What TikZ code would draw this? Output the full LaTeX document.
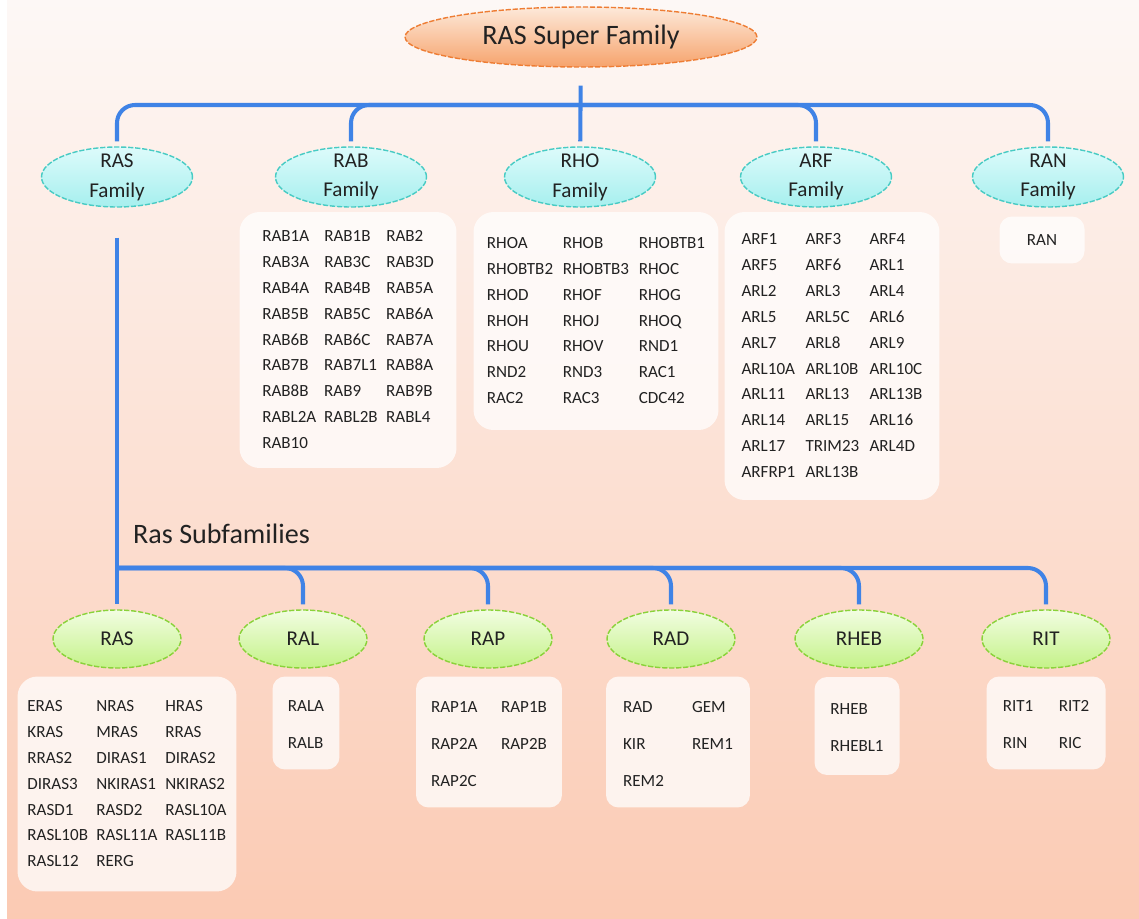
\documentclass[tikz,border=0pt]{standalone}
\usepackage{fontspec}
\setmainfont{Carlito}
\usetikzlibrary{shapes.geometric}
\definecolor{BusBlue}{HTML}{3F83E6}
\definecolor{PaperTop}{HTML}{FDF8F6}
\definecolor{PeachBot}{HTML}{FBCAB3}
\definecolor{OrangeRim}{HTML}{EE7D34}
\definecolor{OrangeTop}{HTML}{FDE9DA}
\definecolor{OrangeBot}{HTML}{F6A36C}
\definecolor{TealRim}{HTML}{48CBC4}
\definecolor{CyanTop}{HTML}{DDFBFB}
\definecolor{CyanBot}{HTML}{A6EFEE}
\definecolor{GreenRim}{HTML}{8AD23A}
\definecolor{LimeTop}{HTML}{F2FDE2}
\definecolor{LimeBot}{HTML}{C4F288}
\definecolor{InkGray}{HTML}{222222}
\setlength{\tabcolsep}{0pt}

\begin{document}
\begin{tikzpicture}[x=0.02cm, y=-0.02cm,
      every node/.style={text=InkGray},
      topell/.style={ellipse, draw=OrangeRim, dash pattern=on 3pt off 1pt, line width=0.8pt,
                     top color=OrangeTop, bottom color=OrangeBot, inner sep=0pt,
                     minimum width=7.04cm, minimum height=1.2cm, font=\fontsize{16}{19}\selectfont},
      famell/.style={ellipse, draw=TealRim, dash pattern=on 3pt off 1pt, line width=0.8pt,
                     top color=CyanTop, bottom color=CyanBot, inner xsep=0pt, inner ysep=-5pt,
                     minimum width=3.02cm, minimum height=1.2cm, align=center,
                     font=\fontsize{12}{17}\selectfont},
      subell/.style={ellipse, draw=GreenRim, dash pattern=on 3pt off 1pt, line width=0.8pt,
                     top color=LimeTop, bottom color=LimeBot, inner sep=0pt,
                     minimum width=2.56cm, minimum height=1.16cm, font=\fontsize{12}{14}\selectfont},
      genelist/.style={rectangle, rounded corners=0.4cm, fill=white, fill opacity=0.75,
                       text opacity=1, inner sep=0pt, font=\fontsize{9.7}{14.7}\selectfont},
      sparse/.style={rounded corners=0.25cm, font=\fontsize{9.7}{21}\selectfont},
      link/.style={draw=BusBlue, line width=2.3pt, rounded corners=0.36cm, shorten >=0.1cm}]

    \fill[white] (0,0) rectangle (1139,919);
    \shade[top color=PaperTop, bottom color=PeachBot] (7,0) rectangle (1139,919);
    \useasboundingbox (0,0) rectangle (1139,919);

    \node[topell] (super) at (581,37) {RAS Super Family};

    \node[famell] (rasfam) at (117,177) {RAS\\Family};
    \node[famell] (rabfam) at (351,177) {RAB\\Family};
    \node[famell] (rhofam) at (580,177) {RHO\\Family};
    \node[famell] (arffam) at (816,177) {ARF\\Family};
    \node[famell] (ranfam) at (1048,177) {RAN\\Family};

    \node[genelist, minimum width=4.34cm, minimum height=5.12cm] (rablist) at (348,340) {%
      \begin{tabular}{p{1.24cm}p{1.24cm}l}
        RAB1A & RAB1B & RAB2\\
        RAB3A & RAB3C & RAB3D\\
        RAB4A & RAB4B & RAB5A\\
        RAB5B & RAB5C & RAB6A\\
        RAB6B & RAB6C & RAB7A\\
        RAB7B & RAB7L1 & RAB8A\\
        RAB8B & RAB9 & RAB9B\\
        RABL2A & RABL2B & RABL4\\
        RAB10 & &
      \end{tabular}};
    \node[genelist, minimum width=4.9cm, minimum height=4.36cm] (rholist) at (596,321) {%
      \begin{tabular}{p{1.52cm}p{1.52cm}l}
        RHOA & RHOB & RHOBTB1\\
        RHOBTB2 & RHOBTB3 & RHOC\\
        RHOD & RHOF & RHOG\\
        RHOH & RHOJ & RHOQ\\
        RHOU & RHOV & RND1\\
        RND2 & RND3 & RAC1\\
        RAC2 & RAC3 & CDC42
      \end{tabular}};
    \node[genelist, minimum width=4.3cm, minimum height=5.76cm] (arflist) at (832,356) {%
      \begin{tabular}{p{1.28cm}p{1.28cm}l}
        ARF1 & ARF3 & ARF4\\
        ARF5 & ARF6 & ARL1\\
        ARL2 & ARL3 & ARL4\\
        ARL5 & ARL5C & ARL6\\
        ARL7 & ARL8 & ARL9\\
        ARL10A & ARL10B & ARL10C\\
        ARL11 & ARL13 & ARL13B\\
        ARL14 & ARL15 & ARL16\\
        ARL17 & TRIM23 & ARL4D\\
        ARFRP1 & ARL13B &
      \end{tabular}};
    \node[genelist, sparse, minimum width=1.7cm, minimum height=0.94cm] (ranlist) at (1042,240) {RAN};

    \node[anchor=base west, font=\fontsize{16}{19}\selectfont] (subtitle) at (127,543) {Ras Subfamilies};

    \node[subell] (rassub) at (117,639) {RAS};
    \node[subell] (ralsub) at (303,639) {RAL};
    \node[subell] (rapsub) at (488,639) {RAP};
    \node[subell] (radsub) at (671,639) {RAD};
    \node[subell] (rhebsub) at (859,639) {RHEB};
    \node[subell] (ritsub) at (1046,639) {RIT};

    \node[genelist, minimum width=4.38cm, minimum height=4.3cm] (raslist) at (127,784) {%
      \begin{tabular}{p{1.38cm}p{1.38cm}l}
        ERAS & NRAS & HRAS\\
        KRAS & MRAS & RRAS\\
        RRAS2 & DIRAS1 & DIRAS2\\
        DIRAS3 & NKIRAS1 & NKIRAS2\\
        RASD1 & RASD2 & RASL10A\\
        RASL10B & RASL11A & RASL11B\\
        RASL12 & RERG &
      \end{tabular}};
    \node[genelist, sparse, minimum width=1.34cm, minimum height=1.86cm] (rallist) at (306,723) {%
      \begin{tabular}{l}
        RALA\\
        RALB
      \end{tabular}};
    \node[genelist, sparse, minimum width=2.92cm, minimum height=2.62cm] (raplist) at (489,742) {%
      \begin{tabular}{p{1.4cm}l}
        RAP1A & RAP1B\\
        RAP2A & RAP2B\\
        RAP2C &
      \end{tabular}};
    \node[genelist, sparse, minimum width=2.88cm, minimum height=2.62cm] (radlist) at (678,742) {%
      \begin{tabular}{p{1.38cm}l}
        RAD & GEM\\
        KIR & REM1\\
        REM2 &
      \end{tabular}};
    \node[genelist, sparse, minimum width=1.7cm, minimum height=1.96cm] (heblist) at (857,726) {%
      \begin{tabular}{l}
        RHEB\\
        RHEBL1
      \end{tabular}};
    \node[genelist, sparse, minimum width=2.38cm, minimum height=1.86cm] (ritlist) at (1046,723) {%
      \begin{tabular}{p{1.12cm}l}
        RIT1 & RIT2\\
        RIN & RIC
      \end{tabular}};

    \coordinate (tophub) at (580,105);
    \coordinate (subhub) at (117,568);

    \draw[link, shorten <=0.36cm] (super) -- (rhofam);
    \draw[link] (tophub) -| (rasfam.north);
    \draw[link] (tophub) -| (rabfam.north);
    \draw[link] (tophub) -| (arffam.north);
    \draw[link] (tophub) -| (ranfam.north);

    \draw[link, shorten <=0.6cm] (rasfam) -- (rassub);
    \draw[link] (subhub) -| (ralsub.north);
    \draw[link] (subhub) -| (rapsub.north);
    \draw[link] (subhub) -| (radsub.north);
    \draw[link] (subhub) -| (rhebsub.north);
    \draw[link] (subhub) -| (ritsub.north);
  \end{tikzpicture}
\end{document}
